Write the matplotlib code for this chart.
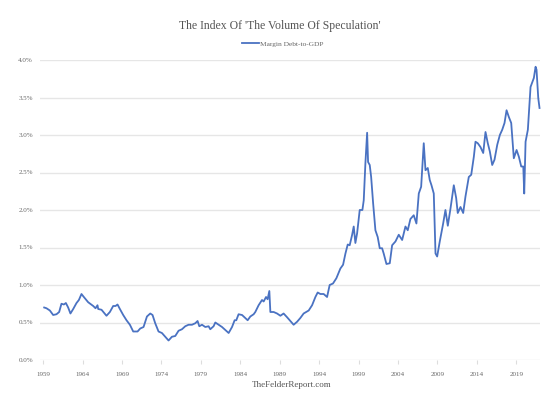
import matplotlib
matplotlib.use("Agg")
import matplotlib.pyplot as plt

# margin debt-to-GDP (%)
years = [1959.13, 1959.42, 1959.85, 1960.27, 1960.69, 1961.03, 1961.32, 1961.63, 1961.88, 1962.17,
         1962.46, 1962.81, 1963.23, 1963.53, 1963.86, 1964.16, 1964.71, 1965.35, 1965.64, 1965.89,
         1965.98, 1966.40, 1967.03, 1967.46, 1967.88, 1968.18, 1968.43, 1968.73, 1969.15, 1969.57,
         1970.00, 1970.42, 1970.97, 1971.31, 1971.73, 1972.16, 1972.58, 1972.87, 1973.21, 1973.63,
         1974.06, 1974.48, 1974.90, 1975.33, 1975.75, 1976.17, 1976.60, 1977.02, 1977.44, 1977.87,
         1978.29, 1978.58, 1978.80, 1979.14, 1979.56, 1979.98, 1980.19, 1980.61, 1980.83, 1981.25,
         1981.68, 1982.10, 1982.52, 1982.95, 1983.28, 1983.49, 1983.78, 1984.22, 1984.63, 1984.93,
         1985.27, 1985.69, 1985.90, 1986.32, 1986.75, 1986.96, 1987.26, 1987.46, 1987.68, 1987.81,
         1988.23, 1988.66, 1989.08, 1989.49, 1989.93, 1990.35, 1990.76, 1991.20, 1991.61, 1992.03,
         1992.67, 1993.10, 1993.52, 1993.81, 1994.15, 1994.57, 1995.00, 1995.33, 1995.75, 1996.18,
         1996.69, 1997.03, 1997.33, 1997.62, 1997.87, 1998.18, 1998.38, 1998.59, 1998.81, 1999.14,
         1999.48, 1999.65, 1999.86, 2000.08, 2000.20, 2000.41, 2000.59, 2000.84, 2001.13, 2001.42,
         2001.68, 2001.98, 2002.18, 2002.53, 2002.95, 2003.25, 2003.67, 2004.09, 2004.52, 2004.94,
         2005.23, 2005.57, 2005.99, 2006.33, 2006.63, 2006.93, 2007.26, 2007.48, 2007.77, 2008.02,
         2008.24, 2008.53, 2008.75, 2008.96, 2009.29, 2009.72, 2010.01, 2010.31, 2010.65, 2011.07,
         2011.37, 2011.57, 2011.92, 2012.26, 2012.55, 2012.97, 2013.28, 2013.61, 2013.82, 2014.11,
         2014.45, 2014.80, 2015.09, 2015.38, 2015.64, 2015.94, 2016.23, 2016.58, 2016.91, 2017.21,
         2017.50, 2017.76, 2018.05, 2018.35, 2018.68, 2019.03, 2019.32, 2019.62, 2019.88, 2020.00,
         2020.17, 2020.46, 2020.80, 2021.22, 2021.44, 2021.56, 2021.78, 2021.94]
values = [0.70, 0.69, 0.66, 0.60, 0.61, 0.64, 0.75, 0.74, 0.76, 0.70,
          0.62, 0.68, 0.76, 0.80, 0.88, 0.84, 0.77, 0.72, 0.69, 0.73,
          0.68, 0.67, 0.59, 0.64, 0.72, 0.72, 0.74, 0.68, 0.60, 0.53,
          0.47, 0.38, 0.38, 0.42, 0.44, 0.58, 0.62, 0.60, 0.49, 0.38,
          0.36, 0.31, 0.26, 0.31, 0.32, 0.39, 0.41, 0.45, 0.47, 0.47,
          0.49, 0.52, 0.45, 0.47, 0.44, 0.45, 0.41, 0.45, 0.50, 0.47,
          0.44, 0.40, 0.36, 0.44, 0.53, 0.53, 0.61, 0.60, 0.56, 0.53,
          0.58, 0.61, 0.64, 0.73, 0.80, 0.78, 0.84, 0.81, 0.92, 0.64,
          0.64, 0.62, 0.59, 0.62, 0.57, 0.52, 0.47, 0.51, 0.56, 0.62,
          0.66, 0.73, 0.84, 0.90, 0.88, 0.88, 0.84, 1.00, 1.02, 1.09,
          1.22, 1.27, 1.42, 1.54, 1.53, 1.67, 1.78, 1.56, 1.69, 2.00,
          2.00, 2.13, 2.62, 3.03, 2.64, 2.60, 2.44, 2.09, 1.73, 1.64,
          1.49, 1.49, 1.42, 1.28, 1.29, 1.53, 1.58, 1.67, 1.60, 1.78,
          1.73, 1.88, 1.93, 1.82, 2.22, 2.31, 2.89, 2.53, 2.56, 2.40,
          2.33, 2.22, 1.42, 1.38, 1.58, 1.82, 2.00, 1.79, 2.02, 2.33,
          2.16, 1.96, 2.04, 1.96, 2.18, 2.44, 2.47, 2.71, 2.91, 2.89,
          2.84, 2.76, 3.04, 2.89, 2.78, 2.60, 2.67, 2.87, 3.00, 3.07,
          3.16, 3.33, 3.24, 3.16, 2.69, 2.80, 2.71, 2.58, 2.58, 2.22,
          2.91, 3.07, 3.64, 3.76, 3.91, 3.87, 3.49, 3.36]

tick_years = [1959, 1964, 1969, 1974, 1979, 1984, 1989, 1994, 1999, 2004, 2009, 2014, 2019]
y_ticks = [0.0, 0.5, 1.0, 1.5, 2.0, 2.5, 3.0, 3.5, 4.0]

serif = ['Liberation Serif', 'DejaVu Serif']
grey = '#666666'
blue = '#4a72c2'

fig = plt.figure(figsize=(5.59, 3.99), dpi=100)
ax = fig.add_axes([40 / 559, 1 - 360 / 399, 500 / 559, 300 / 399])

ax.plot(years, values, color=blue, linewidth=1.3, clip_on=False, label='Margin Debt-to-GDP')

ax.set_xlim(1958.6, 2022.0)
ax.set_ylim(0, 4.0)
ax.set_yticks(y_ticks)
ax.set_yticklabels([f'{t:.1f}%' for t in y_ticks], family=serif, fontsize=5, color=grey)
ax.set_xticks(tick_years)
ax.set_xticklabels([str(t) for t in tick_years], family=serif, fontsize=5, color=grey)

ax.grid(axis='y', color='#e6e6e6', linewidth=1)
ax.set_axisbelow(True)
for s in ['top', 'right', 'left', 'bottom']:
    ax.spines[s].set_visible(False)
ax.tick_params(axis='y', length=0, pad=5)
ax.tick_params(axis='x', length=3, color='#dddddd', pad=6)

fig.text(0.5, 1 - 26 / 399, "The Index Of 'The Volume Of Speculation'", ha='center', va='center',
         family=serif, fontsize=8.5, color='#555555')
fig.legend(loc='center', bbox_to_anchor=(283 / 559, 1 - 44 / 399), frameon=False,
           prop={'family': serif, 'size': 5.3}, labelcolor=grey, handlelength=2.2, handletextpad=0.2)
fig.text(292 / 559, 1 - 385 / 399, 'TheFelderReport.com', ha='center', va='center',
         family=serif, fontsize=6.5, color='#555555')

fig.savefig('out.png', dpi=100)
